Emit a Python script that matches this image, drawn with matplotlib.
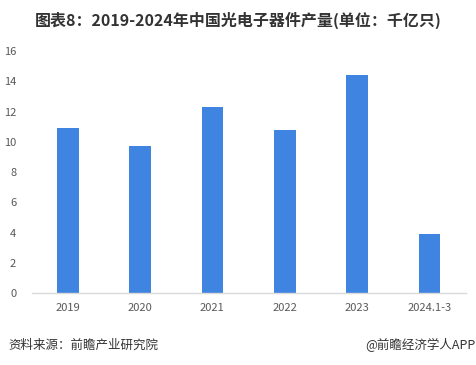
import matplotlib
matplotlib.use("Agg")
import matplotlib.pyplot as plt

plt.rcParams['font.family'] = ['Noto Sans CJK SC', 'DejaVu Sans']

categories = ["2019", "2020", "2021", "2022", "2023", "2024.1-3"]
values = [10.9, 9.7, 12.3, 10.8, 14.4, 3.9]
yticks = [0, 2, 4, 6, 8, 10, 12, 14, 16]

title = "图表8：2019-2024年中国光电子器件产量(单位：千亿只)"
source = "资料来源：前瞻产业研究院"
credit = "@前瞻经济学人APP"

fig = plt.figure(figsize=(4.76, 3.65), dpi=100)
ax = fig.add_axes([0.0662, 0.1964, 0.9118, 0.6636])

x = list(range(len(categories)))
ax.bar(x, values, width=0.30, color="#3F84E0", zorder=2)

ax.set_xlim(-0.5, len(categories) - 0.5)
ax.set_ylim(0, 16)
ax.set_yticks(yticks)
ax.set_yticklabels([str(t) for t in yticks])
ax.set_xticks(x)
ax.set_xticklabels(categories)

for s in ["top", "right", "left"]:
    ax.spines[s].set_visible(False)
ax.spines["bottom"].set_color("#D9D9D9")
ax.spines["bottom"].set_linewidth(1.0)
ax.tick_params(axis="both", length=0, labelsize=8, labelcolor="#595959")
ax.tick_params(axis="y", pad=11)
ax.tick_params(axis="x", pad=7)

fig.text(0.5, 0.945, title, ha="center", va="center", fontsize=11.5,
         fontweight="bold", color="#333333")
fig.text(0.017, 0.055, source, ha="left", va="center", fontsize=9, color="#333333")
fig.text(0.998, 0.055, credit, ha="right", va="center", fontsize=9, color="#333333")

fig.savefig("out.png", dpi=100)
